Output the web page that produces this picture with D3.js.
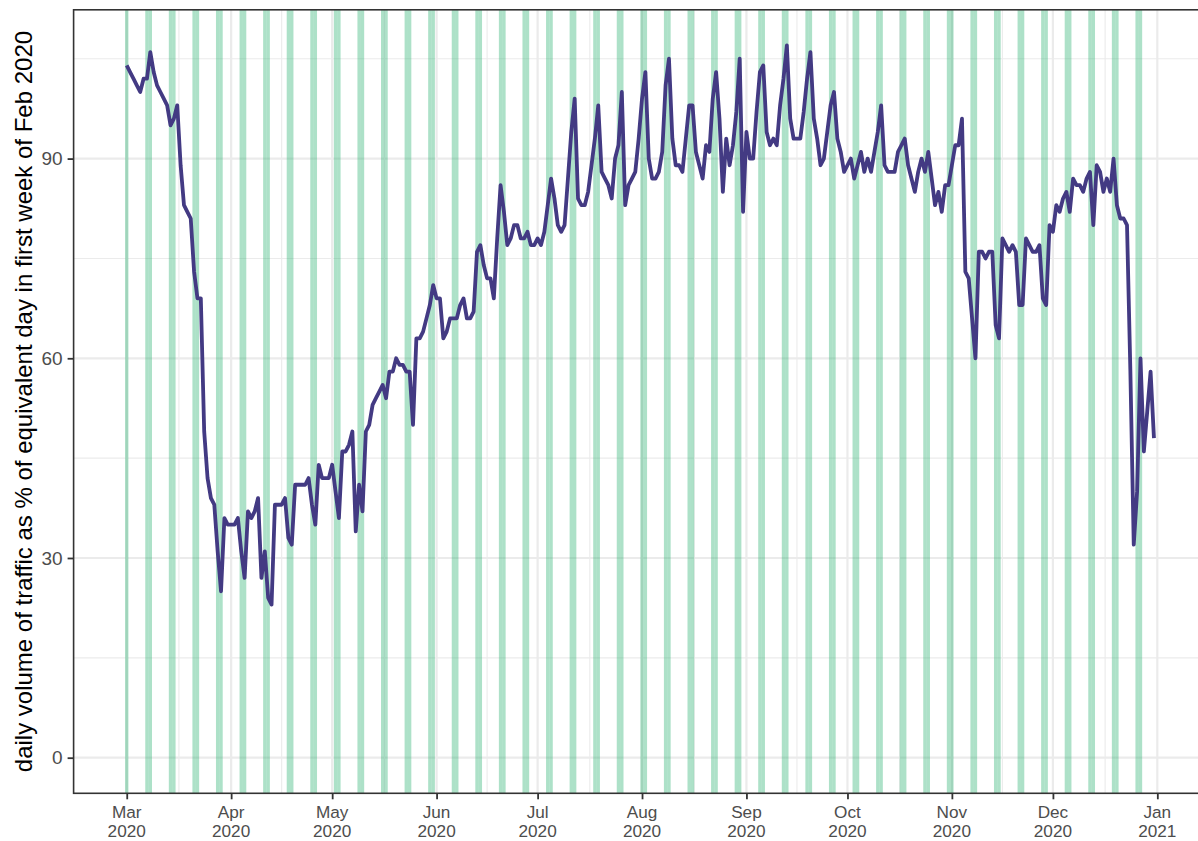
<!DOCTYPE html>
<html>
<head>
<meta charset="utf-8">
<script src="https://cdn.jsdelivr.net/npm/d3@7"></script>
<style>
  html, body { margin: 0; padding: 0; background: #ffffff; }
  svg { display: block; }
  text { font-family: "Liberation Sans", Arial, "DejaVu Sans", sans-serif; }
</style>
</head>
<body>
<div id="chart"></div>
<script>
// Daily traffic, 1 Mar 2020 to 31 Dec 2020, as % of the equivalent day in the first week of Feb 2020
const firstDay = Date.UTC(2020, 2, 1);

const marValues = [104, 103, 102, 101, 100, 102, 102, 106, 103, 101, 100, 99, 98, 95, 96, 98,
  89, 83, 82, 81, 73, 69, 69, 49, 42, 39, 38, 31, 25, 36, 35];
const aprValues = [35, 35, 36, 31, 27, 37, 36, 37, 39, 27, 31, 24, 23, 38, 38, 38, 39, 33, 32, 41,
  41, 41, 41, 42, 38, 35, 44, 42, 42, 42];
const mayValues = [44, 40, 36, 46, 46, 47, 49, 34, 41, 37, 49, 50, 53, 54, 55, 56, 54, 58, 58, 60,
  59, 59, 58, 58, 50, 63, 63, 64, 66, 68, 71];
const junValues = [69, 69, 63, 64, 66, 66, 66, 68, 69, 66, 66, 67, 76, 77, 74, 72, 72, 69, 78, 86,
  82, 77, 78, 80, 80, 78, 78, 79, 77, 77];
const julValues = [78, 77, 79, 83, 87, 84, 80, 79, 80, 87, 94, 99, 84, 83, 83, 85, 89, 93, 98, 88,
  87, 86, 84, 90, 92, 100, 83, 86, 87, 88, 93];
const augValues = [99, 103, 90, 87, 87, 88, 91, 101, 105, 93, 89, 89, 88, 93, 98, 98, 91, 89, 87, 92,
  91, 99, 103, 96, 85, 93, 89, 92, 97, 105, 82];
const sepValues = [94, 90, 90, 97, 103, 104, 94, 92, 93, 92, 98, 102, 107, 96, 93, 93, 93, 97, 102, 106,
  96, 93, 89, 90, 94, 98, 100, 93, 91, 88];
const octValues = [89, 90, 87, 89, 91, 88, 90, 88, 91, 94, 98, 89, 88, 88, 88, 91, 92, 93, 89, 87,
  85, 88, 90, 88, 91, 87, 83, 85, 82, 86, 86];
const novValues = [89, 92, 92, 96, 73, 72, 66, 60, 76, 76, 75, 76, 76, 65, 63, 78, 77, 76, 77, 76,
  68, 68, 78, 77, 76, 76, 77, 69, 68, 80];
const decValues = [79, 83, 82, 84, 85, 82, 87, 86, 86, 85, 87, 88, 80, 89, 88, 85, 87, 85, 90, 83,
  81, 81, 80, 58, 32, 40, 60, 46, 52, 58, 48];

const traffic = [].concat(marValues, aprValues, mayValues, junValues, julValues,
  augValues, sepValues, octValues, novValues, decValues);

const yTicks = [0, 30, 60, 90];
const yMinorTicks = [15, 45, 75, 105];
const yTitle = "daily volume of traffic as % of equivalent day in first week of Feb 2020";

const dayMs = 864e5;
const series = traffic.map((v, i) => ({ date: new Date(firstDay + i * dayMs), value: v }));
const lastDay = series[series.length - 1].date;

// Weekend days (Saturday and Sunday) covered by the series
const weekendDays = series.map(d => d.date).filter(d => d.getUTCDay() === 0 || d.getUTCDay() === 6);

// ---------- layout ----------
const width = 1198, height = 841;
const panel = { left: 73.6, right: 1205.4, top: 9.8, bottom: 793.3 };

const svg = d3.select("#chart").append("svg")
  .attr("width", width).attr("height", height);

// x: weekend tiles span half a day either side; 5% padding on each side
const xLo = +firstDay - dayMs / 2, xHi = +lastDay;
const xPad = (xHi - xLo) * 0.05;
const x = d3.scaleUtc()
  .domain([new Date(xLo - xPad), new Date(xHi + xPad)])
  .range([panel.left, panel.right]);

const yMax = d3.max(traffic);
const yPad = yMax * 0.05;
const y = d3.scaleLinear()
  .domain([0 - yPad, yMax + yPad])
  .range([panel.bottom, panel.top]);

const monthTicks = d3.utcMonth.range(new Date(Date.UTC(2020, 2, 1)), new Date(Date.UTC(2021, 0, 2)));
const monthMinor = d3.pairs(monthTicks).map(([a, b]) => new Date((+a + +b) / 2));

svg.append("clipPath").attr("id", "panel-clip")
  .append("rect")
  .attr("x", panel.left).attr("y", panel.top)
  .attr("width", panel.right - panel.left).attr("height", panel.bottom - panel.top);

const plot = svg.append("g").attr("clip-path", "url(#panel-clip)");

// grid
const gridColor = "#ebebeb";
plot.append("g").selectAll("line").data(yMinorTicks).join("line")
  .attr("x1", panel.left).attr("x2", panel.right)
  .attr("y1", d => y(d)).attr("y2", d => y(d))
  .attr("stroke", gridColor).attr("stroke-width", 1.1);
plot.append("g").selectAll("line").data(monthMinor).join("line")
  .attr("y1", panel.top).attr("y2", panel.bottom)
  .attr("x1", d => x(d)).attr("x2", d => x(d))
  .attr("stroke", gridColor).attr("stroke-width", 1.1);
plot.append("g").selectAll("line").data(yTicks).join("line")
  .attr("x1", panel.left).attr("x2", panel.right)
  .attr("y1", d => y(d)).attr("y2", d => y(d))
  .attr("stroke", gridColor).attr("stroke-width", 2.2);
plot.append("g").selectAll("line").data(monthTicks).join("line")
  .attr("y1", panel.top).attr("y2", panel.bottom)
  .attr("x1", d => x(d)).attr("x2", d => x(d))
  .attr("stroke", gridColor).attr("stroke-width", 2.2);

// weekend tiles
plot.append("g").selectAll("rect").data(weekendDays).join("rect")
  .attr("x", d => x(new Date(+d - dayMs / 2)))
  .attr("width", d => x(new Date(+d + dayMs / 2)) - x(new Date(+d - dayMs / 2)))
  .attr("y", panel.top)
  .attr("height", panel.bottom - panel.top)
  .attr("fill", "rgb(40,176,110)")
  .attr("fill-opacity", 0.38);

// traffic line
const line = d3.line().x(d => x(d.date)).y(d => y(d.value));
plot.append("path").datum(series)
  .attr("d", line)
  .attr("fill", "none")
  .attr("stroke", "#433a83")
  .attr("stroke-width", 3.8)
  .attr("stroke-linejoin", "round")
  .attr("stroke-linecap", "butt");

// panel border
svg.append("rect")
  .attr("x", panel.left).attr("y", panel.top)
  .attr("width", panel.right - panel.left).attr("height", panel.bottom - panel.top)
  .attr("fill", "none").attr("stroke", "#333333").attr("stroke-width", 1.6);

// x axis: ticks at month starts, two-line labels (month / year)
const xAxis = svg.append("g").attr("transform", `translate(0,${panel.bottom})`)
  .call(d3.axisBottom(x).tickValues(monthTicks).tickSize(6).tickFormat(() => ""));
xAxis.select(".domain").remove();
xAxis.selectAll(".tick line").attr("stroke", "#333333").attr("stroke-width", 1.8);
xAxis.selectAll(".tick text").remove();
const fmtMonth = d3.utcFormat("%b"), fmtYear = d3.utcFormat("%Y");
const xLabelGroup = svg.append("g")
  .attr("text-anchor", "middle")
  .attr("fill", "#4d4d4d")
  .attr("font-size", 17.2);
xLabelGroup.selectAll("text.month").data(monthTicks).join("text")
  .attr("class", "month")
  .attr("x", d => x(d)).attr("y", 817.8)
  .text(d => fmtMonth(d));
xLabelGroup.selectAll("text.year").data(monthTicks).join("text")
  .attr("class", "year")
  .attr("x", d => x(d)).attr("y", 837.2)
  .text(d => fmtYear(d));

// y axis
const yAxis = svg.append("g").attr("transform", `translate(${panel.left},0)`)
  .call(d3.axisLeft(y).tickValues(yTicks).tickSize(6).tickPadding(5));
yAxis.select(".domain").remove();
yAxis.selectAll(".tick line").attr("stroke", "#333333").attr("stroke-width", 1.8);
yAxis.selectAll(".tick text")
  .attr("fill", "#4d4d4d")
  .attr("font-size", 19)
  .attr("font-family", "'Liberation Sans', Arial, sans-serif");

// y title
svg.append("text")
  .attr("transform", `translate(32,${(panel.top + panel.bottom) / 2}) rotate(-90)`)
  .attr("text-anchor", "middle")
  .attr("fill", "#000000")
  .attr("font-size", 24)
  .text(yTitle);
</script>
</body>
</html>
